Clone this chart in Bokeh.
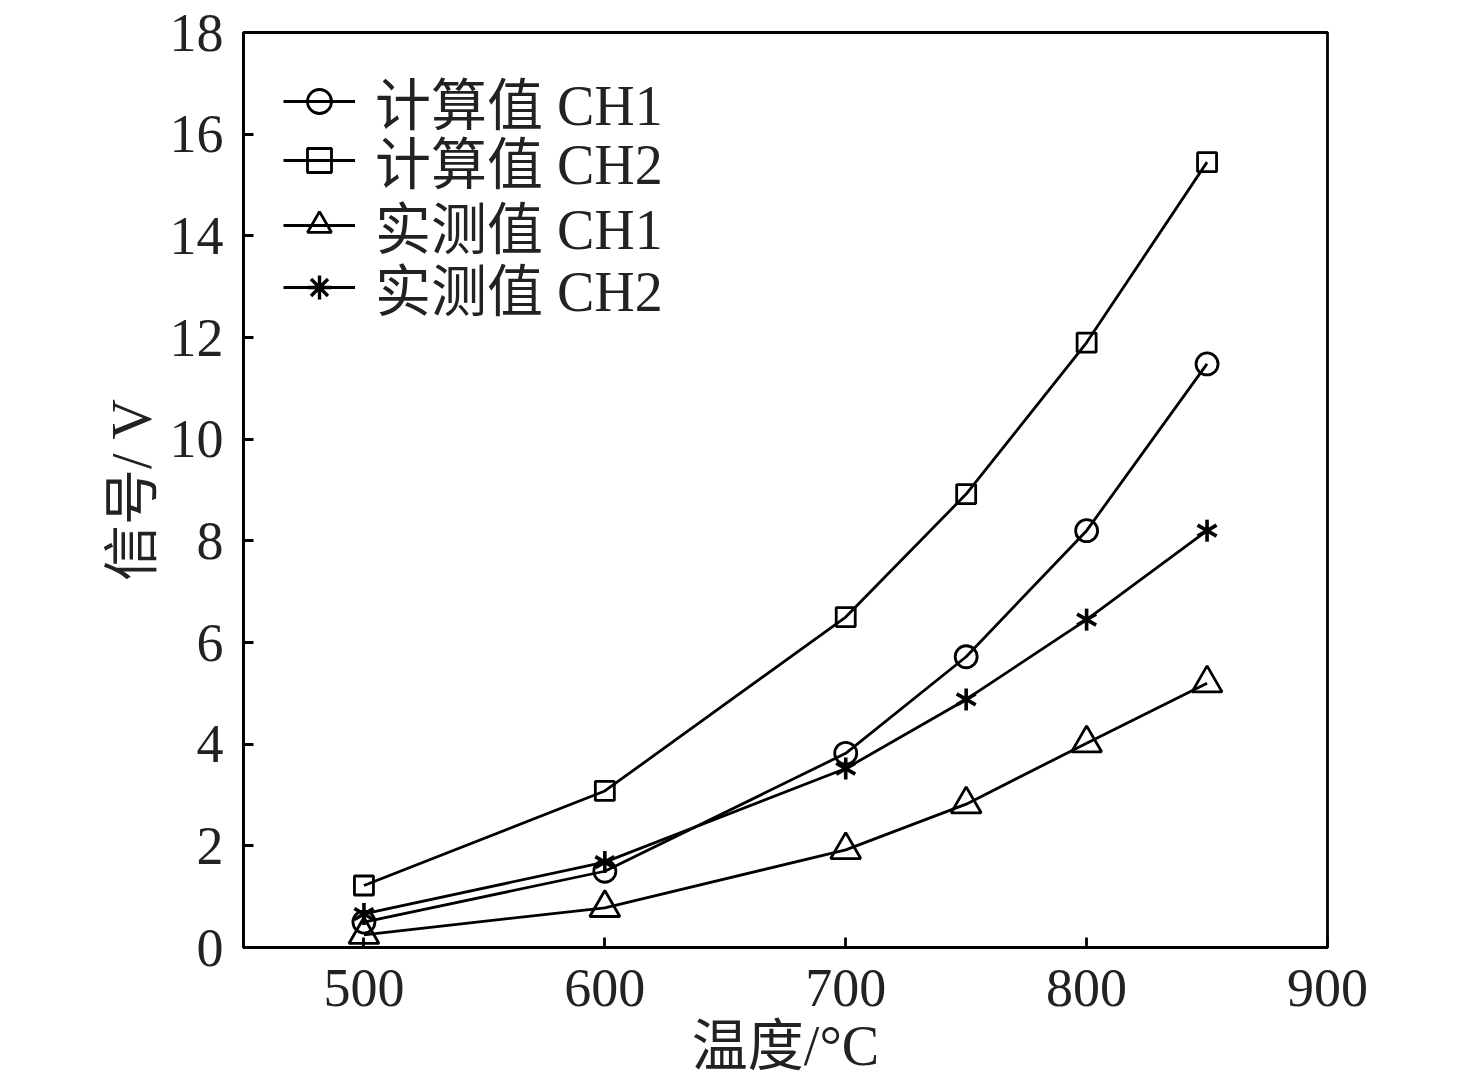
from bokeh.plotting import figure
from bokeh.models import Range1d, FixedTicker, Legend, LegendItem
from bokeh.embed import file_html
from bokeh.resources import INLINE

temps = [500, 600, 700, 750, 800, 850]
calc_ch1 = [0.5, 1.5, 3.82, 5.72, 8.2, 11.48]
calc_ch2 = [1.22, 3.08, 6.5, 8.92, 11.9, 15.45]
meas_ch1 = [0.25, 0.78, 1.92, 2.82, 4.02, 5.2]
meas_ch2 = [0.66, 1.68, 3.52, 4.88, 6.45, 8.2]
labels = ["计算值 CH1", "计算值 CH2", "实测值 CH1", "实测值 CH2"]
x_ticks = [500, 600, 700, 800, 900]
y_ticks = [0, 2, 4, 6, 8, 10, 12, 14, 16, 18]

FONT = "Liberation Serif, Noto Sans CJK SC"
TICK_FS = "54px"
LAB_FS = "56px"
LW = 2.8
INK = "#222222"

p = figure(width=1476, height=1081, output_backend="svg", toolbar_location=None,
           x_range=Range1d(450, 900), y_range=Range1d(0, 18),
           min_border_left=243, min_border_top=32, min_border_right=149, min_border_bottom=134)
p.grid.visible = False
p.background_fill_color = "white"
p.border_fill_color = "white"
p.outline_line_color = "black"
p.outline_line_width = LW

for ax in (p.xaxis[0], p.yaxis[0]):
    ax.axis_line_width = LW
    ax.axis_line_color = "black"
    ax.major_tick_in = 10
    ax.major_tick_out = 0
    ax.major_tick_line_width = LW
    ax.minor_tick_in = 0
    ax.minor_tick_out = 0
    ax.major_label_text_font = FONT
    ax.major_label_text_font_size = TICK_FS
    ax.major_label_text_color = INK
    ax.axis_label_text_font = FONT
    ax.axis_label_text_font_size = LAB_FS
    ax.axis_label_text_font_style = "normal"
    ax.axis_label_text_color = INK

p.xaxis.ticker = FixedTicker(ticks=x_ticks)
p.yaxis.ticker = FixedTicker(ticks=y_ticks)
p.xaxis.axis_label = "温度/°C"
p.yaxis.axis_label = "信号/ V"
p.xaxis.major_label_standoff = 22
p.xaxis.axis_label_standoff = 6
p.yaxis.major_label_standoff = 20
p.yaxis.axis_label_standoff = 4

nan = float("nan")
series = [calc_ch1, calc_ch2, meas_ch1, meas_ch2]
row_bottoms = [806, 747, 682, 620]
for i, ys in enumerate(series):
    rs = [p.line(temps, ys, line_color="black", line_width=LW)]
    if i == 0:
        rs.append(p.scatter(temps, ys, marker="circle", size=22, fill_color=None,
                            line_color="black", line_width=LW))
    elif i == 1:
        rs.append(p.scatter(temps, ys, marker="square", size=19, fill_color=None,
                            line_color="black", line_width=LW))
    elif i == 2:
        rs.append(p.scatter(temps, ys, marker="triangle", size=30, fill_color=None,
                            line_color="black", line_width=LW))
    else:
        for ang in (1.5708, 0.5236, 2.618):
            p.scatter(temps, ys, marker="dash", size=22, angle=ang,
                      line_color="black", line_width=3.6)
        rs.append(p.scatter([nan], [nan], marker="asterisk", size=21,
                            line_color="black", line_width=3.4))
    lg = Legend(items=[LegendItem(label=labels[i], renderers=rs)],
                location=(40, row_bottoms[i]), margin=0, padding=0,
                glyph_width=72, glyph_height=60, label_height=60, spacing=0,
                label_standoff=20, label_text_font=FONT, label_text_font_size=LAB_FS,
                label_text_color=INK, border_line_color=None,
                background_fill_alpha=0)
    p.add_layout(lg, "center")

open("out.html", "w").write(file_html(p, INLINE))
